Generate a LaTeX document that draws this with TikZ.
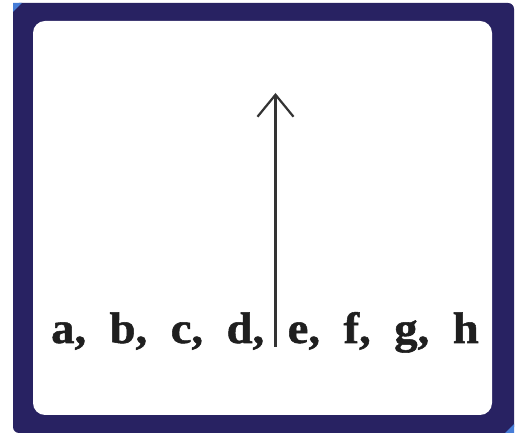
\documentclass[tikz,border=0pt]{standalone}
\usepackage{fontspec}
\setmainfont{Liberation Serif}
\newfontfamily\heavyserif[FakeBold=1.2,FakeStretch=1.06]{Liberation Serif Bold}
\usetikzlibrary{arrows.meta}
\definecolor{navy}{RGB}{40,34,98}
\definecolor{glow}{RGB}{70,125,215}
\tikzset{
  frame/.style={fill=navy, rounded corners=6pt},
  panel/.style={fill=white, rounded corners=12pt},
  letters/.style={inner sep=0pt, anchor=base west, text=black!88,
    font=\fontsize{44}{50}\heavyserif},
  uparrow/.style={line width=2.2pt, draw=black!80,
    -{Straight Barb[length=22pt,width=36pt,line width=2.2pt]}}
}
\begin{document}
\begin{tikzpicture}[x=1pt,y=-1pt]
\useasboundingbox (0,0) rectangle (517,435);
\fill[white] (0,0) rectangle (517,435);
\fill[frame] (13,3) rectangle (514,433);
\fill[glow] (13,3) -- (22,3) -- (13,12) -- cycle;
\fill[glow] (514,433) -- (505,433) -- (514,424) -- cycle;
\fill[panel] (33,21) rectangle (492,415);
\node[letters] (labels) at (51,343) {\spaceskip=23.5pt a, b, c, d, e, f, g, h};
\coordinate (base) at (275.5,347);
\coordinate (tip) at (275.5,93);
\draw[uparrow] (base) -- (tip);
\end{tikzpicture}
\end{document}
